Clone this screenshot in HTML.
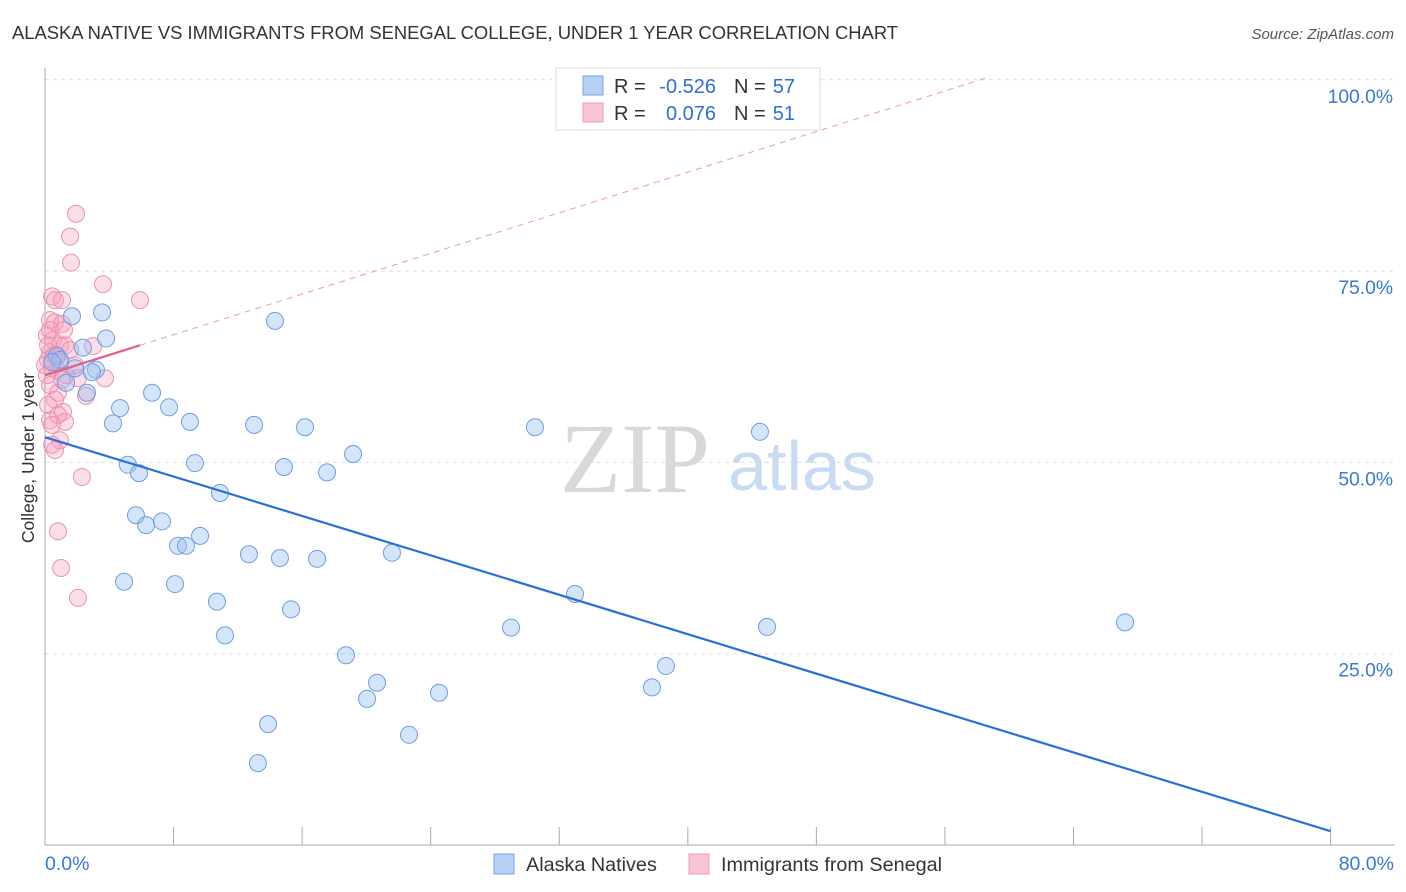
<!DOCTYPE html>
<html><head><meta charset="utf-8"><style>
body{margin:0;background:#fff;font-family:"Liberation Sans",sans-serif;}
#c{position:relative;width:1406px;height:892px;overflow:hidden;}
</style></head><body>
<div id="c">
<svg id="s" width="1406" height="892" xmlns="http://www.w3.org/2000/svg">
<text x="12" y="39" font-size="18.4" fill="#333">ALASKA NATIVE VS IMMIGRANTS FROM SENEGAL COLLEGE, UNDER 1 YEAR CORRELATION CHART</text>
<text x="1394" y="39" font-size="15" fill="#555" font-style="italic" text-anchor="end">Source: ZipAtlas.com</text>
<text x="635" y="492" font-size="100" fill="#d8d8d8" font-family="Liberation Serif,serif" text-anchor="middle">ZIP</text>
<text x="802" y="490" font-size="70" fill="#c9daf3" text-anchor="middle">atlas</text>
<g id="grid"></g><g id="axes"></g><g id="pts"></g><g id="lines"></g>
<text transform="translate(34,458) rotate(-90)" font-size="17.5" fill="#333" text-anchor="middle">College, Under 1 year</text>
<g>
<rect x="556" y="68" width="264" height="62" fill="#fff" stroke="#ddd"/>
<rect x="583" y="76" width="20" height="19" fill="#b7d0f5" stroke="#7aa6e6"/>
<rect x="583" y="103" width="20" height="19" fill="#f9c5d4" stroke="#ee9bb5"/>
<g font-size="20" fill="#333">
<text x="614" y="93">R =</text><text x="716" y="93" fill="#2f6fd6" text-anchor="end">-0.526</text>
<text x="734" y="93">N =</text><text x="795" y="93" fill="#2f6fd6" text-anchor="end">57</text>
<text x="614" y="120">R =</text><text x="716" y="120" fill="#2f6fd6" text-anchor="end">0.076</text>
<text x="734" y="120">N =</text><text x="795" y="120" fill="#2f6fd6" text-anchor="end">51</text>
</g>
</g>
<g>
<rect x="494" y="854" width="20" height="20" fill="#b7d0f5" stroke="#7aa6e6"/>
<text x="526" y="871" font-size="19.8" fill="#333">Alaska Natives</text>
<rect x="689" y="854" width="20" height="20" fill="#f9c5d4" stroke="#ee9bb5"/>
<text x="721" y="871" font-size="19.8" fill="#333">Immigrants from Senegal</text>
</g>
</svg></div>
<script>
const xTickLabels=["0.0%","80.0%"];
const yTicks=[25,50,75,100];
const yTickLabels=["25.0%","50.0%","75.0%","100.0%"];
const blueX=[1.68,3.55,3.80,2.36,0.75,0.93,1.87,3.17,2.92,1.31,2.61,4.67,4.23,6.66,7.72,9.02,14.31,13.01,16.18,30.49,44.49,5.16,5.85,9.33,14.87,17.55,19.17,10.89,5.66,6.29,7.28,8.28,8.77,9.65,12.69,14.62,16.93,21.59,4.92,8.09,10.70,15.31,32.98,11.20,29.00,44.93,67.21,18.73,20.66,20.04,24.52,37.77,38.64,13.88,22.65,13.25,0.44];
const blueY=[69.1,69.6,66.2,65.0,63.9,63.4,62.3,62.1,61.8,60.4,59.1,57.1,55.1,59.1,57.2,55.3,68.5,54.9,54.6,54.6,54.0,49.7,48.6,49.9,49.4,48.7,51.1,46.0,43.1,41.8,42.3,39.1,39.1,40.4,38.0,37.5,37.4,38.2,34.4,34.1,31.8,30.8,32.8,27.4,28.4,28.5,29.1,24.8,21.2,19.1,19.9,20.6,23.4,15.8,14.4,10.7,63.1];
const pinkX=[1.93,1.56,1.62,3.61,5.91,0.44,0.62,1.06,0.31,0.62,1.06,0.12,0.50,0.93,1.24,2.99,0.31,0.68,0.19,0.93,0.44,0.75,1.31,2.05,3.73,0.31,0.81,2.55,0.62,0.19,1.12,0.31,1.24,0.93,0.44,0.62,2.30,0.81,1.00,2.05,0.19,0.31,0.56,1.06,0.0,0.12,1.56,1.87,0.81,0.44,1.18];
const pinkY=[82.5,79.5,76.1,73.3,71.2,71.7,71.2,71.2,68.6,68.3,68.1,66.6,66.0,65.3,65.3,65.2,64.4,64.0,63.4,63.1,62.3,62.1,61.4,61.0,61.0,60.1,59.1,58.7,58.2,57.5,56.6,55.5,55.3,52.9,52.3,51.6,48.1,41.0,36.2,32.3,65.3,67.3,64.0,60.8,62.7,61.4,64.7,62.7,56.2,54.9,67.3];
const blueTrend=[53.3,1.8];
const pinkTrend=[61.4,65.3,100.2];
const pinkTrendX=[0,5.91,58.5];
const NS="http://www.w3.org/2000/svg";
const xs=v=>45+v*16.07, ys=v=>845-v*7.652;
function mk(t,a,p){const e=document.createElementNS(NS,t);for(const k in a)e.setAttribute(k,a[k]);p.appendChild(e);return e;}
const grid=document.getElementById('grid'),axes=document.getElementById('axes'),pts=document.getElementById('pts'),lines=document.getElementById('lines');
yTicks.forEach((t,i)=>{
 const l=mk('line',{x1:45,x2:1395,y1:ys(t),y2:ys(t),stroke:'#ddd','stroke-dasharray':'4,4'},grid);
 
 
 const tx=mk('text',{x:1393,y:ys(t)+23,'font-size':19.3,fill:'#3a78d8','text-anchor':'end'},axes);
 tx.textContent=yTickLabels[i];
 
 
});
const ya=mk('line',{x1:45,x2:45,y1:68,y2:845,stroke:'#aaa'},axes);


const xa=mk('line',{x1:45,x2:1395,y1:845,y2:845,stroke:'#aaa'},axes);


for(let v=0;v<=80;v+=8){const tk=mk('line',{x1:xs(v),x2:xs(v),y1:827,y2:845,stroke:'#aaa'},axes);
 
 }
[[0,'start',45],[80,'end',1394]].forEach((d,i)=>{const t=mk('text',{x:d[2],y:870,'font-size':19.5,fill:'#3a78d8','text-anchor':d[1]},axes);t.textContent=xTickLabels[i];
 
 });
pinkX.forEach((x,i)=>{const c=mk('circle',{cx:xs(x),cy:ys(pinkY[i]),r:8.5,fill:'rgba(245,160,188,0.35)',stroke:'#ea93b0','stroke-width':1},pts);
 
 });
blueX.forEach((x,i)=>{const c=mk('circle',{cx:xs(x),cy:ys(blueY[i]),r:8.5,fill:'rgba(150,190,240,0.4)',stroke:'#6e9de3','stroke-width':1},pts);
 
 });
const bl=mk('line',{x1:xs(0),y1:ys(blueTrend[0]),x2:xs(80),y2:ys(blueTrend[1]),stroke:'#2a6fd6','stroke-width':2.2},lines);


const pl=mk('line',{x1:xs(pinkTrendX[0]),y1:ys(pinkTrend[0]),x2:xs(pinkTrendX[1]),y2:ys(pinkTrend[1]),stroke:'#e0608a','stroke-width':2.2},lines);


const pd=mk('line',{x1:xs(pinkTrendX[1]),y1:ys(pinkTrend[1]),x2:xs(pinkTrendX[2]),y2:ys(pinkTrend[2]),stroke:'#e89ab4','stroke-width':1,'stroke-dasharray':'6,5'},lines);


</script>
</body></html>
